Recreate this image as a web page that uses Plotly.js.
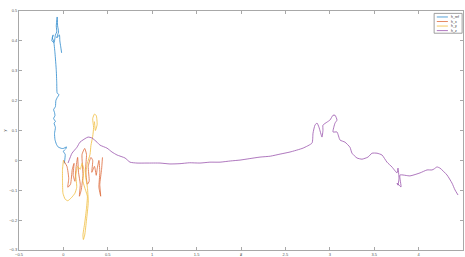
<!DOCTYPE html>
<html>
<head>
<meta charset="utf-8">
<script src="https://cdn.plot.ly/plotly-3.0.1.min.js"></script>
<style>html,body{margin:0;padding:0;background:#fff;}#chart{width:465px;height:257px;}</style>
</head>
<body>
<div id="chart"></div>
<script>
// Series names (legend)
const seriesNames = ["h_ref", "h_x", "h_y", "h_z"];
const seriesColors = ["#2a88cc", "#dd6a3a", "#f0bd3c", "#9a55ad"];

// Series 1 (blue)
const s1x = [0.01,0.02,0.00,0.03,0.035,0.00,-0.02,-0.06,-0.08,-0.095,-0.10,-0.09,-0.105,-0.09,-0.11,-0.095,-0.10,-0.11,-0.09,-0.085,-0.07,-0.05,-0.07,-0.075,-0.08,-0.095,-0.11,-0.125,-0.115,-0.13,-0.105,-0.09,-0.075,-0.08,-0.07,-0.065,-0.055,-0.075,-0.045,-0.04,-0.03,-0.02];
const s1y = [-0.01,0.02,0.03,0.04,0.045,0.04,0.04,0.045,0.055,0.07,0.09,0.11,0.125,0.13,0.14,0.15,0.16,0.17,0.18,0.20,0.21,0.22,0.225,0.26,0.30,0.36,0.40,0.41,0.42,0.40,0.395,0.42,0.43,0.45,0.48,0.45,0.43,0.41,0.42,0.40,0.38,0.36];

// Series 2 (orange)
const s2x = [0.0,0.04,0.06,0.05,0.08,0.10,0.12,0.11,0.13,0.14,0.16,0.17,0.19,0.18,0.20,0.22,0.21,0.24,0.26,0.25,0.27,0.29,0.28,0.31,0.33,0.32,0.35,0.37,0.38,0.40,0.41,0.40,0.42,0.41,0.43,0.44];
const s2y = [0.0,-0.02,-0.06,-0.09,-0.08,-0.03,-0.01,-0.05,-0.07,-0.03,0.01,-0.04,-0.08,-0.12,-0.10,-0.05,0.02,0.04,0.02,-0.03,-0.08,-0.07,-0.02,0.01,0.00,-0.04,-0.02,-0.05,-0.03,0.00,-0.04,-0.09,-0.12,-0.08,-0.03,0.01];

// Series 3 (yellow)
const s3x = [0.0,-0.01,-0.01,-0.005,0.02,0.05,0.09,0.13,0.15,0.14,0.16,0.19,0.21,0.23,0.22,0.25,0.27,0.26,0.24,0.22,0.225,0.24,0.26,0.28,0.27,0.25,0.27,0.30,0.31,0.33,0.34,0.33,0.35,0.37,0.38,0.36,0.35];
const s3y = [0.0,-0.03,-0.07,-0.11,-0.13,-0.135,-0.125,-0.11,-0.09,-0.05,-0.02,-0.03,-0.01,-0.03,-0.07,-0.10,-0.12,-0.16,-0.21,-0.25,-0.265,-0.25,-0.20,-0.14,-0.09,-0.05,-0.01,0.02,0.05,0.08,0.11,0.14,0.155,0.15,0.12,0.10,0.13];

// Series 4 (purple)
const s4x = [0.052,0.097,0.153,0.187,0.277,0.322,0.378,0.412,0.491,0.547,0.604,0.694,0.75,0.829,0.941,1.088,1.2,1.313,1.42,1.538,1.65,1.764,1.88,1.989,2.1,2.214,2.33,2.44,2.552,2.698,2.80,2.811,2.833,2.856,2.878,2.912,2.923,2.923,2.968,3.002,3.036,3.059,3.081,3.059,3.036,3.081,3.115,3.171,3.227,3.25,3.306,3.363,3.43,3.475,3.532,3.588,3.644,3.70,3.757,3.768,3.779,3.768,3.757,3.802,3.79,3.903,4.016,4.095,4.151,4.173,4.207,4.241,4.32,4.376,4.41,4.444];
const s4y = [-0.009,0.024,0.044,0.061,0.078,0.075,0.061,0.051,0.041,0.028,0.018,0.008,-0.006,-0.009,-0.009,-0.009,-0.012,-0.011,-0.008,-0.009,-0.006,-0.006,-0.002,0.001,0.006,0.011,0.014,0.021,0.028,0.041,0.058,0.091,0.118,0.125,0.111,0.078,0.101,0.118,0.128,0.135,0.151,0.151,0.135,0.125,0.095,0.095,0.068,0.061,0.044,0.024,0.008,0.004,0.011,0.024,0.024,0.018,-0.006,-0.022,-0.042,-0.026,-0.059,-0.083,-0.076,-0.089,-0.049,-0.052,-0.042,-0.032,-0.032,-0.029,-0.022,-0.026,-0.049,-0.076,-0.099,-0.116];

const xs = [s1x, s2x, s3x, s4x];
const ys = [s1y, s2y, s3y, s4y];

const traces = xs.map((x, i) => ({
  type: "scatter", mode: "lines", x: x, y: ys[i], name: seriesNames[i],
  line: {color: seriesColors[i], width: 0.8, shape: "spline", smoothing: 0.5},
  showlegend: false, hoverinfo: "skip"
}));

// manual compact legend (MATLAB style)
const shapes = [{type: "rect", xref: "paper", yref: "paper", x0: 0.935, x1: 0.998, y0: 0.907, y1: 0.990,
  line: {color: "#888", width: 0.8}, fillcolor: "#fff"}];
const annotations = [];
const legY = [0.975, 0.956, 0.937, 0.918];
seriesNames.forEach((n, i) => {
  shapes.push({type: "line", xref: "paper", yref: "paper", x0: 0.941, x1: 0.966, y0: legY[i], y1: legY[i],
    line: {color: seriesColors[i], width: 0.8}});
  annotations.push({xref: "paper", yref: "paper", x: 0.968, y: legY[i], xanchor: "left", yanchor: "middle",
    text: n, showarrow: false, font: {size: 3.5, color: "#333"}});
});

const axisCommon = {
  showgrid: false, zeroline: false, showline: true, linecolor: "#a8a8a8", linewidth: 1,
  mirror: "ticks", ticks: "inside", ticklen: 3, tickcolor: "#a8a8a8", tickwidth: 1,
  tickfont: {size: 4, color: "#555"}
};

const layout = {
  width: 465, height: 257,
  margin: {l: 19, r: 2, t: 11, b: 7, pad: 0},
  paper_bgcolor: "#fff", plot_bgcolor: "#fff",
  font: {family: "Liberation Sans, Arial, sans-serif"},
  showlegend: false,
  xaxis: Object.assign({}, axisCommon, {range: [-0.5, 4.5], dtick: 0.5, tick0: 0,
    title: {text: "x", font: {size: 4, color: "#555"}, standoff: 2}}),
  yaxis: Object.assign({}, axisCommon, {range: [-0.3, 0.5], dtick: 0.1, tick0: 0,
    title: {text: "y", font: {size: 4, color: "#555"}, standoff: 2}}),
  shapes: shapes,
  annotations: annotations
};

Plotly.newPlot("chart", traces, layout, {staticPlot: true, displayModeBar: false});
</script>
</body>
</html>
